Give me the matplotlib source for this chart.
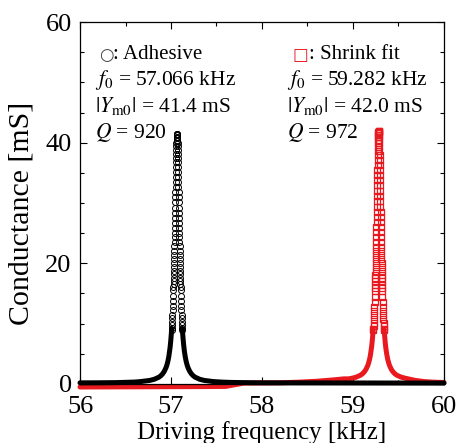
import numpy as np
import matplotlib
matplotlib.use('Agg')
import matplotlib.pyplot as plt
from matplotlib.ticker import MultipleLocator

# 数据
adh_freq = [56.000, 56.100, 56.200, 56.300, 56.400, 56.500, 56.600, 56.666, 56.766, 56.816,
            56.866, 56.886, 56.906, 56.926, 56.946, 56.956, 56.966, 56.976, 56.986, 56.990,
            56.994, 56.998, 57.002, 57.006, 57.008, 57.010, 57.012, 57.014, 57.016, 57.018,
            57.020, 57.022, 57.024, 57.026, 57.027, 57.028, 57.029, 57.030, 57.031, 57.032,
            57.033, 57.034, 57.035, 57.036, 57.037, 57.038, 57.039, 57.040, 57.041, 57.042,
            57.043, 57.044, 57.045, 57.046, 57.047, 57.048, 57.049, 57.050, 57.051, 57.052,
            57.053, 57.054, 57.055, 57.056, 57.057, 57.058, 57.059, 57.060, 57.061, 57.062,
            57.063, 57.064, 57.065, 57.066, 57.067, 57.068, 57.069, 57.070, 57.071, 57.072,
            57.073, 57.074, 57.075, 57.076, 57.077, 57.078, 57.079, 57.080, 57.081, 57.082,
            57.083, 57.084, 57.085, 57.086, 57.087, 57.088, 57.089, 57.090, 57.091, 57.092,
            57.093, 57.094, 57.095, 57.096, 57.097, 57.098, 57.099, 57.100, 57.101, 57.102,
            57.103, 57.104, 57.105, 57.106, 57.108, 57.110, 57.112, 57.114, 57.116, 57.118,
            57.120, 57.122, 57.124, 57.126, 57.130, 57.134, 57.138, 57.142, 57.146, 57.156,
            57.166, 57.176, 57.186, 57.206, 57.226, 57.246, 57.266, 57.316, 57.366, 57.466,
            57.566, 57.666, 57.866, 58.066, 58.400, 58.800, 59.200, 59.600, 60.000]
adh_cond = [0.19, 0.19, 0.20, 0.21, 0.23, 0.27, 0.32, 0.40, 0.59, 0.78,
            1.12, 1.34, 1.65, 2.09, 2.74, 3.20, 3.78, 4.55, 5.56, 6.06,
            6.63, 7.28, 8.02, 8.88, 9.21, 9.72, 10.27, 10.86, 11.50, 12.20,
            12.94, 13.74, 14.61, 15.55, 16.04, 16.55, 17.09, 17.64, 18.21, 18.80,
            19.42, 20.05, 20.71, 21.39, 22.09, 22.81, 23.55, 24.32, 25.10, 25.90,
            26.71, 27.54, 28.39, 29.24, 30.11, 30.97, 31.84, 32.70, 33.55, 34.39,
            35.21, 36.01, 36.77, 37.50, 38.18, 38.82, 39.39, 39.91, 40.35, 40.72,
            41.02, 41.23, 41.36, 41.40, 41.36, 41.23, 41.02, 40.72, 40.35, 39.91,
            39.39, 38.82, 38.18, 37.50, 36.77, 36.01, 35.21, 34.39, 33.55, 32.70,
            31.84, 30.97, 30.11, 29.24, 28.39, 27.54, 26.71, 25.90, 25.10, 24.32,
            23.55, 22.81, 22.09, 21.39, 20.71, 20.05, 19.42, 18.80, 18.21, 17.64,
            17.09, 16.55, 16.04, 15.55, 14.61, 13.74, 12.94, 12.20, 11.50, 10.86,
            10.27, 9.72, 9.21, 8.88, 8.02, 7.28, 6.63, 6.06, 5.56, 4.55,
            3.78, 3.20, 2.74, 2.09, 1.65, 1.34, 1.12, 0.78, 0.59, 0.40,
            0.31, 0.26, 0.21, 0.19, 0.18, 0.18, 0.17, 0.16, 0.15]

shr_freq = [56.000, 56.500, 57.000, 57.300, 57.600, 57.800, 58.200, 58.400, 58.600, 58.800,
            58.900, 58.950, 58.982, 59.032, 59.082, 59.102, 59.122, 59.142, 59.162, 59.172,
            59.182, 59.192, 59.202, 59.206, 59.210, 59.214, 59.218, 59.222, 59.224, 59.226,
            59.228, 59.230, 59.232, 59.234, 59.236, 59.238, 59.240, 59.242, 59.243, 59.244,
            59.245, 59.246, 59.247, 59.248, 59.249, 59.250, 59.251, 59.252, 59.253, 59.254,
            59.255, 59.256, 59.257, 59.258, 59.259, 59.260, 59.261, 59.262, 59.263, 59.264,
            59.265, 59.266, 59.267, 59.268, 59.269, 59.270, 59.271, 59.272, 59.273, 59.274,
            59.275, 59.276, 59.277, 59.278, 59.279, 59.280, 59.281, 59.282, 59.283, 59.284,
            59.285, 59.286, 59.287, 59.288, 59.289, 59.290, 59.291, 59.292, 59.293, 59.294,
            59.295, 59.296, 59.297, 59.298, 59.299, 59.300, 59.301, 59.302, 59.303, 59.304,
            59.305, 59.306, 59.307, 59.308, 59.309, 59.310, 59.311, 59.312, 59.313, 59.314,
            59.315, 59.316, 59.317, 59.318, 59.319, 59.320, 59.321, 59.322, 59.324, 59.326,
            59.328, 59.330, 59.332, 59.334, 59.336, 59.338, 59.340, 59.342, 59.346, 59.350,
            59.354, 59.358, 59.362, 59.372, 59.382, 59.392, 59.402, 59.422, 59.442, 59.462,
            59.482, 59.532, 59.582, 59.682, 59.782, 59.882, 60.000]
shr_cond = [-0.50, -0.48, -0.45, -0.43, -0.40, 0.15, 0.20, 0.30, 0.45, 0.70,
            0.85, 0.85, 0.93, 1.12, 1.45, 1.67, 1.97, 2.40, 3.05, 3.50,
            4.07, 4.83, 5.83, 6.33, 6.89, 7.53, 8.27, 9.02, 9.10, 9.61,
            10.16, 10.75, 11.39, 12.08, 12.82, 13.63, 14.50, 15.44, 15.94, 16.45,
            16.99, 17.55, 18.13, 18.72, 19.35, 19.99, 20.66, 21.34, 22.06, 22.79,
            23.54, 24.32, 25.12, 25.94, 26.77, 27.62, 28.49, 29.37, 30.26, 31.15,
            32.04, 32.94, 33.82, 34.69, 35.54, 36.37, 37.17, 37.92, 38.64, 39.30,
            39.90, 40.44, 40.90, 41.29, 41.60, 41.82, 41.95, 42.00, 41.95, 41.82,
            41.60, 41.29, 40.90, 40.44, 39.90, 39.30, 38.64, 37.92, 37.17, 36.37,
            35.54, 34.69, 33.82, 32.94, 32.04, 31.15, 30.26, 29.37, 28.49, 27.62,
            26.77, 25.94, 25.12, 24.32, 23.54, 22.79, 22.06, 21.34, 20.66, 19.99,
            19.35, 18.72, 18.13, 17.55, 16.99, 16.45, 15.94, 15.44, 14.50, 13.63,
            12.82, 12.08, 11.39, 10.75, 10.16, 9.61, 9.10, 9.02, 8.27, 7.53,
            6.89, 6.33, 5.83, 4.83, 4.07, 3.50, 3.05, 2.40, 1.97, 1.67,
            1.45, 1.12, 0.93, 0.60, 0.40, 0.30, 0.25]

adh_text = [r'$f_0$ = 57.066 kHz', r'$|Y_{\mathrm{m0}}|$ = 41.4 mS', r'$Q$ = 920']
shr_text = [r'$f_0$ = 59.282 kHz', r'$|Y_{\mathrm{m0}}|$ = 42.0 mS', r'$Q$ = 972']

plt.rcParams['font.family'] = ['Liberation Serif', 'DejaVu Sans']
plt.rcParams['mathtext.fontset'] = 'stix'

red = '#e8191f'
fig = plt.figure(figsize=(4.59, 4.43), dpi=100)
ax = fig.add_axes([0.1743, 0.1332, 0.793, 0.8171])

adh_f = np.array(adh_freq)
adh_g = np.array(adh_cond)
shr_f = np.array(shr_freq)
shr_g = np.array(shr_cond)
cut = 9.5

# 底部密集的点用粗线表示，峰值部分用标记
ax.plot(shr_f, np.ma.masked_where(shr_g > cut, shr_g), color=red, lw=3.6,
        solid_capstyle='round', clip_on=False, zorder=2)
ax.plot(shr_f, np.ma.masked_where(shr_g < cut - 1, shr_g), ls='none', marker='s', ms=4.3,
        mfc='none', mec=red, mew=0.9, clip_on=False, zorder=2)
ax.plot(adh_f, np.ma.masked_where(adh_g > cut, adh_g), color='black', lw=3.6,
        solid_capstyle='round', clip_on=False, zorder=3)
ax.plot(adh_f, np.ma.masked_where(adh_g < cut - 1, adh_g), ls='none', marker='o', ms=4.3,
        mfc='none', mec='black', mew=0.7, clip_on=False, zorder=3)

ax.set_xlim(56, 60)
ax.set_ylim(0, 60)
ax.xaxis.set_major_locator(MultipleLocator(1))
ax.xaxis.set_minor_locator(MultipleLocator(0.5))
ax.yaxis.set_major_locator(MultipleLocator(20))
ax.yaxis.set_minor_locator(MultipleLocator(5))
ax.tick_params(which='both', direction='in', top=True, right=True, labelsize=19, width=0.8)
ax.tick_params(which='major', length=5)
ax.tick_params(which='minor', length=3)
ax.tick_params(axis='x', which='major', pad=9)
ax.tick_params(axis='y', which='major', pad=6)
for s in ax.spines.values():
    s.set_linewidth(0.9)
ax.set_xlabel('Driving frequency [kHz]', fontsize=18, labelpad=2)
ax.set_ylabel('Conductance [mS]', fontsize=21.5, labelpad=7.5)
ax.yaxis.label.set_y(0.47)

# 注释文字
ys = [0.826, 0.751, 0.680]
t1 = ax.text(0.052, 0.895, '○', fontsize=12, family='DejaVu Sans', color='#444444',
             transform=ax.transAxes, va='baseline')
ax.annotate(': Adhesive', xy=(1, 0), xycoords=t1, fontsize=15, va='bottom')
for y, s in zip(ys, adh_text):
    ax.text(0.040, y, s, fontsize=15.5, transform=ax.transAxes, va='baseline')

t2 = ax.text(0.585, 0.895, '□', fontsize=12, family='DejaVu Sans', color=red,
             transform=ax.transAxes, va='baseline')
ax.annotate(': Shrink fit', xy=(1, 0), xycoords=t2, fontsize=15, va='bottom')
for y, s in zip(ys, shr_text):
    ax.text(0.57, y, s, fontsize=15.5, transform=ax.transAxes, va='baseline')

fig.savefig('out.png', dpi=100)
